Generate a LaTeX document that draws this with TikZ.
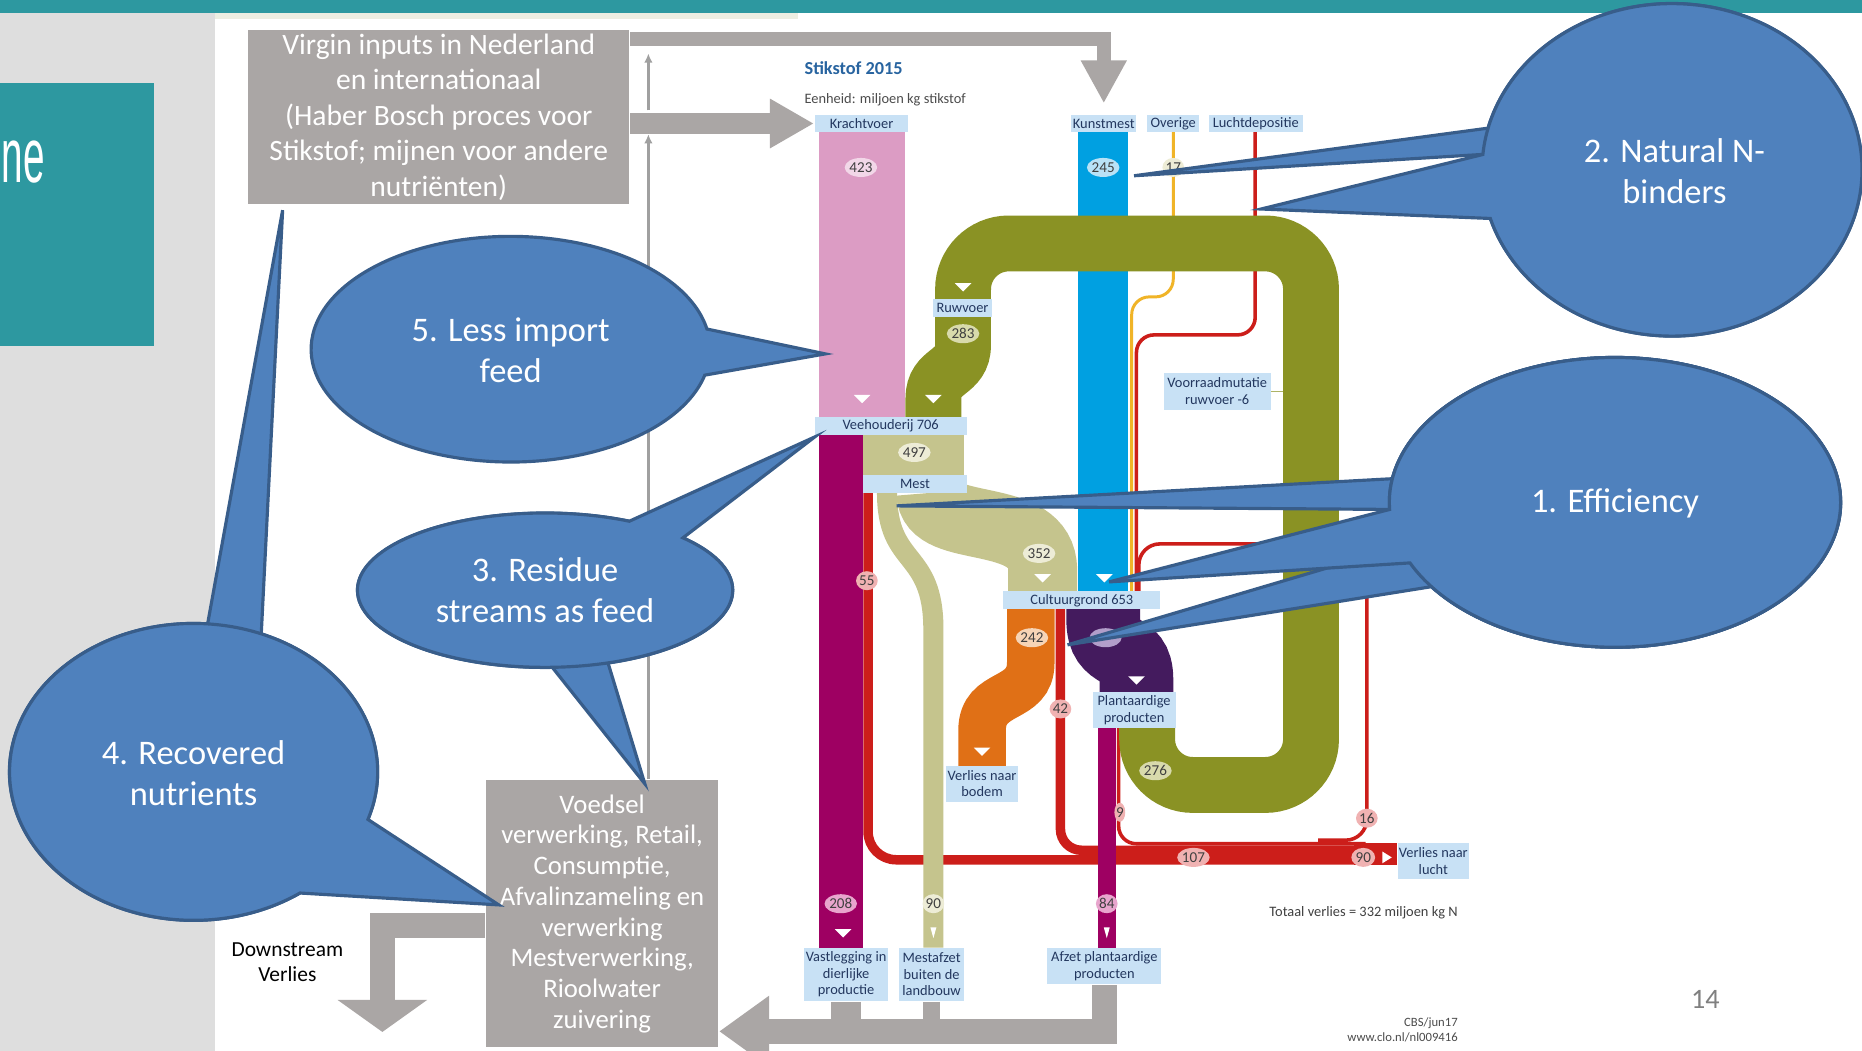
\documentclass[tikz,border=0pt]{standalone}
\usepackage{fontspec}
\setmainfont{Carlito}
\newfontfamily\titlefont{Liberation Sans}
\usetikzlibrary{positioning, arrows.meta, shapes.geometric}

\newcommand\pxu{0.3379pt}

\definecolor{slideteal}{RGB}{45,152,160}
\definecolor{panelgrey}{RGB}{222,222,222}
\definecolor{stripbeige}{RGB}{236,238,226}
\definecolor{boxgrey}{RGB}{170,166,165}
\definecolor{linegrey}{RGB}{160,160,160}
\definecolor{calloutfill}{RGB}{79,129,189}
\definecolor{calloutline}{RGB}{56,93,138}
\definecolor{krachtpink}{RGB}{220,156,196}
\definecolor{kunstblue}{RGB}{0,160,225}
\definecolor{ruwolive}{RGB}{138,146,36}
\definecolor{mestkhaki}{RGB}{197,196,141}
\definecolor{dierplum}{RGB}{158,0,98}
\definecolor{luchtred}{RGB}{204,30,26}
\definecolor{bodemorange}{RGB}{224,112,22}
\definecolor{plantpurple}{RGB}{68,27,94}
\definecolor{overigeyellow}{RGB}{240,180,40}
\definecolor{labelblue}{RGB}{200,225,245}
\definecolor{labelnavy}{RGB}{35,55,95}
\definecolor{titleblue}{RGB}{40,100,160}
\definecolor{pinksoft}{RGB}{242,215,232}
\definecolor{bluesoft}{RGB}{185,226,246}
\definecolor{olivesoft}{RGB}{216,218,172}
\definecolor{khakisoft}{RGB}{237,236,214}
\definecolor{orangesoft}{RGB}{246,212,182}
\definecolor{plumsoft}{RGB}{232,165,205}
\definecolor{redsoft}{RGB}{240,178,178}
\definecolor{lilacsoft}{RGB}{178,158,202}

\begin{document}
\begin{tikzpicture}[
    x=0.011875cm, y=-0.011875cm,
    >={Latex[length=2.6pt,width=2.4pt]},
    greybox/.style={fill=boxgrey, text=white, align=center, inner sep=0pt},
    flowlabel/.style={fill=labelblue, text=labelnavy, align=center, inner sep=0pt, minimum height=15*\pxu, font=\fontsize{4.1}{4.7}\selectfont},
    amount/.style={ellipse, fill=#1, inner sep=0pt, minimum width=27*\pxu, minimum height=16*\pxu, text=black!75, font=\fontsize{4.3}{5}\selectfont},
    blockflow/.style={draw=boxgrey, line cap=butt},
    thinarrow/.style={->, draw=linegrey, line width=0.85pt},
    band/.style={line cap=butt},
    speech/.style={fill=calloutfill, draw=calloutline, line width=0.9pt},
    speechtext/.style={text=white, align=center, font=\fontsize{9.8}{11.8}\selectfont}
  ]
  % Slide
  \fill[white] (0,0) rectangle (1568,885);
  \useasboundingbox (0,0) rectangle (1568,885);
  \fill[panelgrey] (0,11) rectangle (181,885);
  \fill[stripbeige] (181,11) rectangle (672,16);
  \fill[slideteal] (0,0) rectangle (1568,11);
  \fill[slideteal] (0,70) rectangle (130,291);
  \node[anchor=base west, inner sep=0pt, text=white, font=\titlefont\fontsize{22}{26}\selectfont] (slidetitle) at (1,154) {\scalebox{0.5}[1]{ne}};

  % Sankey flows
  \draw[band, luchtred, line width=8*\pxu, rounded corners=8pt] (731,415) -- (731,724) -- (1150,724);
  \draw[band, luchtred, line width=8*\pxu, rounded corners=6pt] (893,513) -- (893,716) -- (1150,716);
  \draw[band, luchtred, line width=3*\pxu, rounded corners=5pt] (942,613) -- (942,710.5) -- (1150,710.5);
  \draw[band, luchtred, line width=3*\pxu, rounded corners=6pt] (959,498) -- (959,458) -- (1151,458) -- (1151,707.5) -- (1110,707.5);
  \fill[luchtred] (1140,710) rectangle (1176,728);
  \draw[band, luchtred, line width=3*\pxu, rounded corners=5pt] (1057,111) -- (1057,282) -- (957,282) -- (957,498);
  \draw[band, overigeyellow, line width=2.5*\pxu, rounded corners=5pt] (988,111) -- (988,250) -- (953,250) -- (953,498);
  \fill[krachtpink] (690,111) rectangle (762,351);
  \fill[mestkhaki] (726,366) rectangle (812,400);
  \draw[band, mestkhaki, line width=58*\pxu] (784,415) .. controls (784,452) and (878,428) .. (878,480) -- (878,498);
  \draw[band, mestkhaki, line width=17*\pxu] (747,415) .. controls (747,478) and (786,462) .. (786,530) -- (786,798);
  \fill[kunstblue] (908,111) rectangle (950,498);
  \draw[band, ruwolive, line width=47*\pxu, rounded corners=13pt] (966,613) -- (966,661) -- (1104,661) -- (1104,205) -- (811,205) -- (811,292);
  \draw[band, ruwolive, line width=47*\pxu] (811,290) .. controls (811,316) and (786,310) .. (786,336) -- (786,351);
  \fill[dierplum] (690,366) rectangle (727,798);
  \fill[dierplum] (925,613) rectangle (940,798);
  \draw[band, bodemorange, line width=40*\pxu] (868,513) -- (868,558) .. controls (868,592) and (827,580) .. (827,615) -- (827,645);
  \draw[band, plantpurple, line width=62*\pxu] (929,513) -- (929,522) .. controls (929,556) and (957,540) .. (957,572) -- (957,583);

  % Flow direction marks
  \foreach \tx/\ty in {726/336, 786/336, 811/242, 878/487, 930/487, 827/633, 957/573, 710/786}
    \fill[white] (\tx-7,\ty-3.5) -- (\tx+7,\ty-3.5) -- (\tx,\ty+3.5) -- cycle;
  \foreach \tx/\ty in {786/786, 932/786}
    \fill[white] (\tx-2.5,\ty-5) -- (\tx+2.5,\ty-5) -- (\tx,\ty+4) -- cycle;
  \fill[white] (1164,717) -- (1164,727) -- (1172,722) -- cycle;

  % Sankey labels
  \node[anchor=west, inner sep=0pt, text=titleblue, font=\bfseries\fontsize{5.2}{6}\selectfont] (title) at (677,57) {Stikstof 2015};
  \node[anchor=west, inner sep=0pt, text=black!70, font=\fontsize{4.1}{5}\selectfont] (unit) at (677,84) {Eenheid: miljoen kg stikstof};
  \node[flowlabel, minimum width=79*\pxu] (krachtvoer) at (725.5,104) {Krachtvoer};
  \node[flowlabel, minimum width=55*\pxu] (kunstmest) at (929.5,104) {Kunstmest};
  \node[flowlabel, minimum width=44*\pxu] (overige) at (988,104) {Overige};
  \node[flowlabel, minimum width=79*\pxu] (luchtdepositie) at (1057.5,104) {Luchtdepositie};
  \node[flowlabel, minimum width=49*\pxu] (ruwvoer) at (810.5,259.5) {Ruwvoer};
  \node[flowlabel, minimum width=128*\pxu] (veehouderij) at (750,358.5) {Veehouderij 706};
  \node[flowlabel, minimum width=87*\pxu] (mest) at (770.5,407.5) {Mest};
  \node[flowlabel, minimum width=90*\pxu, minimum height=31*\pxu] (voorraad) at (1025,329.5) {Voorraadmutatie\\ruwvoer -6};
  \node[flowlabel, minimum width=132*\pxu] (cultuurgrond) at (911,505.5) {Cultuurgrond 653};
  \node[flowlabel, minimum width=70*\pxu, minimum height=30*\pxu] (plantaardig) at (955,598) {Plantaardige\\producten};
  \node[flowlabel, minimum width=60*\pxu, minimum height=30*\pxu] (verliesbodem) at (827,660) {Verlies naar\\bodem};
  \node[flowlabel, minimum width=60*\pxu, minimum height=30*\pxu] (verlieslucht) at (1207,725) {Verlies naar\\lucht};
  \node[flowlabel, minimum width=71*\pxu, minimum height=45*\pxu] (vastlegging) at (712.5,820.5) {Vastlegging in\\dierlijke\\productie};
  \node[flowlabel, minimum width=55*\pxu, minimum height=45*\pxu] (mestafzet) at (784.5,820.5) {Mestafzet\\buiten de\\landbouw};
  \node[flowlabel, minimum width=96*\pxu, minimum height=31*\pxu] (afzetplant) at (930,813.5) {Afzet plantaardige\\producten};
  \draw[ruwolive!70, line width=0.4pt] (voorraad.east) -- ++(10,0);

  % Amounts
  \node[amount=pinksoft] (q423) at (725,141) {423};
  \node[amount=bluesoft] (q245) at (929,141) {245};
  \node[amount=khakisoft, minimum width=12*\pxu] (q17) at (988,141) {17};
  \node[amount=olivesoft] (q283) at (811,281) {283};
  \node[amount=khakisoft] (q497) at (770,381) {497};
  \node[amount=khakisoft] (q352) at (875,466) {352};
  \node[amount=orangesoft] (q242) at (869,537) {242};
  \node[amount=lilacsoft] (qplant) at (931,537) {};
  \node[amount=olivesoft] (q276) at (973,649) {276};
  \node[amount=redsoft, minimum width=14*\pxu] (q55) at (730,489) {55};
  \node[amount=redsoft, minimum width=14*\pxu] (q42) at (893,597) {42};
  \node[amount=redsoft, minimum width=8*\pxu] (q9) at (943,684) {9};
  \node[amount=redsoft, minimum width=12*\pxu] (q16) at (1151,689) {16};
  \node[amount=redsoft] (q107) at (1005,722) {107};
  \node[amount=redsoft, minimum width=20*\pxu] (q90lucht) at (1148,722) {90};
  \node[amount=plumsoft] (q208) at (708,761) {208};
  \node[amount=khakisoft, minimum width=16*\pxu] (q90mest) at (786,761) {90};
  \node[amount=plumsoft, minimum width=14*\pxu] (q84) at (932,761) {84};
  \node[anchor=east, text=black!75, font=\fontsize{4.1}{5}\selectfont] (totaal) at (1238,769) {Totaal verlies = 332 miljoen kg N};
  \node[anchor=east, align=right, text=black!70, font=\fontsize{3.6}{4.3}\selectfont] (source) at (1238,867) {CBS/jun17\\www.clo.nl/nl009416};

  % Chain boxes
  \node[greybox, minimum width=321*\pxu, minimum height=147*\pxu, font=\fontsize{8.4}{10.1}\selectfont] (virgin) at (369.5,98.5) {Virgin inputs in Nederland\\en internationaal\\(Haber Bosch proces voor\\Stikstof; mijnen voor andere\\nutriënten)};
  \node[greybox, minimum width=196*\pxu, minimum height=225*\pxu, font=\fontsize{7.6}{8.75}\selectfont] (voedsel) at (507,769.5) {Voedsel\\verwerking, Retail,\\Consumptie,\\Afvalinzameling en\\verwerking\\Mestverwerking,\\Rioolwater\\zuivering};
  \node[align=center, font=\fontsize{6.1}{7}\selectfont] (downstream) at (242,810) {Downstream\\Verlies};
  \node[text=black!50, font=\fontsize{8}{9}\selectfont] (pagenum) at (1436,842) {14};

  % Chain arrows
  \coordinate (toplane) at (530,33);
  \coordinate (bottomlane) at (0,868.5);
  \coordinate (downlane) at (0,779);
  \coordinate (downtip) at (322,869);
  \coordinate (feedlow) at (546,113);
  \coordinate (feedmid) at (546,93);
  \coordinate (feedhigh) at (546,45);
  \draw[thinarrow] (voedsel.north -| feedlow) -- (feedlow);
  \draw[thinarrow] (feedmid) -- (feedhigh);
  \draw[blockflow, line width=12*\pxu, shorten >=3pt, -{Triangle[length=12.2pt,width=12.2pt]}] (virgin.east |- toplane) -| (kunstmest.north);
  \draw[blockflow, line width=18*\pxu, -{Triangle[length=12.5pt,width=13.2pt]}] (virgin.east |- krachtvoer) -- (krachtvoer.west);
  \draw[blockflow, line width=25*\pxu] (vastlegging.south) -- (vastlegging.south |- bottomlane);
  \draw[blockflow, line width=14*\pxu] (mestafzet.south) -- (mestafzet.south |- bottomlane);
  \draw[blockflow, line width=21*\pxu, -{Triangle[length=14.2pt,width=19.3pt]}] (afzetplant.south) |- (voedsel.east |- bottomlane);
  \draw[blockflow, line width=21*\pxu, -{Triangle[length=9.1pt,width=25pt]}] (voedsel.west |- downlane) -| (downtip);

  % Callouts
  \path[speech] (695,298) -- (593.5,315.9) arc[start angle=13.3, end angle=349.7, x radius=168, y radius=95] -- cycle;
  \node[speechtext] (lessimport) at (430,295) {5. Less import\\feed};
  \path[speech] (543,660) -- (465.1,562) arc[start angle=87.8, end angle=430.4, x radius=158, y radius=65] -- cycle;
  \path[speech] (686,368) -- (575.1,452.9) arc[start angle=-42.7, end angle=296.7, x radius=158, y radius=65] -- cycle;
  \node[speechtext] (residue) at (459,497) {3. Residue\\streams as feed};
  \path[speech] (238,177) -- (220,533.8) arc[start angle=291.6, end angle=634.4, x radius=155, y radius=125] -- cycle;
  \path[speech] (420,762) -- (252.6,752) arc[start angle=54.7, end angle=378.7, x radius=155, y radius=125] -- cycle;
  \node[speechtext] (recovered) at (163,651) {4. Recovered\\nutrients};
  \path[speech] (955,148) -- (1253.1,107.9) arc[start angle=194.5, end angle=545.3, x radius=160, y radius=140] -- cycle;
  \path[speech] (1062,176) -- (1248.7,130.1) arc[start angle=185.3, end angle=523, x radius=160, y radius=140] -- cycle;
  \node[speechtext] (nbinders) at (1410,144) {2. Natural N-\\binders};
  \path[speech] (755,426) -- (1172.5,403.1) arc[start angle=189.4, end angle=537.2, x radius=190, y radius=122] -- cycle;
  \path[speech] (899,543) -- (1179,460.1) arc[start angle=162.3, end angle=504.4, x radius=190, y radius=122] -- cycle;
  \path[speech] (934,490) -- (1170.2,429) arc[start angle=177.2, end angle=515.3, x radius=190, y radius=122] -- cycle;
  \node[speechtext] (efficiency) at (1360,424) {1. Efficiency};
\end{tikzpicture}
\end{document}
